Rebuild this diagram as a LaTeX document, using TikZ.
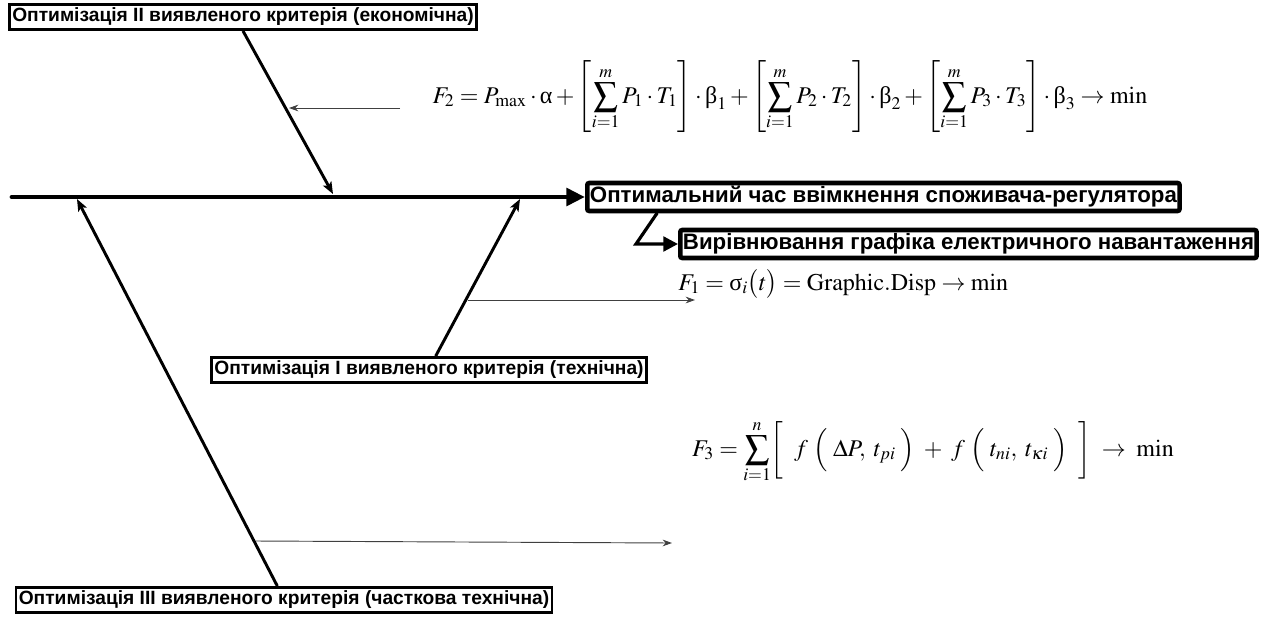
\documentclass[tikz,border=0pt]{standalone}
\usepackage{mathptmx}
\usepackage{fontspec}
\setmainfont{Liberation Serif}
\setsansfont{Liberation Sans}
\usetikzlibrary{arrows.meta}
\newcommand\ualpha{\mbox{α}}
\newcommand\ubeta{\mbox{β}}
\newcommand\usigma{\mbox{σ}}

\begin{document}
\begin{tikzpicture}[x=0.75pt, y=-0.75pt,
  crit/.style={draw, line width=1.9pt, font=\sffamily\bfseries\fontsize{14.4}{16}\selectfont, inner xsep=2pt, inner ysep=2pt, minimum height=19pt},
  goal/.style={draw, line width=3.4pt, rounded corners=1.5pt, font=\sffamily\bfseries\fontsize{16.7}{18}\selectfont, inner xsep=2pt, inner ysep=1.5pt, minimum height=21pt},
  formula/.style={font=\fontsize{18}{20}\selectfont, inner sep=0pt},
  spine/.style={line width=3.6pt, line cap=round, -{Triangle[length=14pt, width=13pt]}},
  bone/.style={line width=2.2pt, -{Stealth[length=9pt, width=7pt, inset=2pt]}},
  note/.style={line width=0.7pt, draw=black!75, -{Stealth[length=7pt, width=5pt]}}]
\useasboundingbox (0,0) rectangle (1272,619);

% boxes of the criteria
\node[crit] (crit2) at (243,17) {Оптимізація II виявленого критерія (економічна)};
\node[crit] (crit1) at (429,370) {Оптимізація I виявленого критерія (технічна)};
\node[crit] (crit3) at (284,600) {Оптимізація III виявленого критерія (часткова технічна)};

% result
\node[goal, anchor=west] (opt) at (585,197) {Оптимальний час ввімкнення споживача-регулятора};
\node[goal, anchor=west] (vyr) at (678,244) {Вирівнювання графіка електричного навантаження};

% formulas
\node[formula] (f2) at (790,97) {$\displaystyle F_2 = P_{\max}\cdot\ualpha + \left[\sum_{i=1}^{m} P_1\cdot T_1\right]\cdot\ubeta_1 + \left[\sum_{i=1}^{m} P_2\cdot T_2\right]\cdot\ubeta_2 + \left[\sum_{i=1}^{m} P_3\cdot T_3\right]\cdot\ubeta_3 \to \min$};
\node[formula, anchor=west] (f1) at (678,284) {$F_1 = \usigma_i\bigl(t\bigr) = \mathrm{Graphic.Disp} \to \min$};
\node[formula] (f3) at (933,452) {$\displaystyle F_3 = \sum_{i=1}^{n}\biggl[\;\; f\;\Bigl(\;\Delta P,\; t_{pi}\;\Bigr) \;+\; f\;\Bigl(\; t_{ni},\; t_{\kappa i}\;\Bigr)\;\;\biggr] \;\to\; \min$};

% spine
\coordinate (tail) at (12,197);
\coordinate (m3) at (77,199);
\coordinate (m2) at (333,194);
\coordinate (m1) at (520,199);
\coordinate (bend) at (636,244);
\draw[spine] (tail) -- (opt.west);
\draw[line width=2.4pt, line cap=round, -{Triangle[length=11pt, width=11pt]}] ([xshift=54pt]opt.south west) -- (bend) -- (vyr.west);

% bones
\draw[bone] (crit2.south) -- (m2);
\draw[bone] ([xshift=5pt]crit1.north) -- (m1);
\draw[bone] ([xshift=-5pt]crit3.north) -- (m3);

% formula pointers
\coordinate (p2) at (289,108);
\coordinate (p1) at (468,300);
\coordinate (p3) at (256,541);
\draw[note] (400,108) -- (p2);
\draw[note] (p1) -- (695,300);
\draw[note] (p3) -- (672,543);
\end{tikzpicture}
\end{document}
